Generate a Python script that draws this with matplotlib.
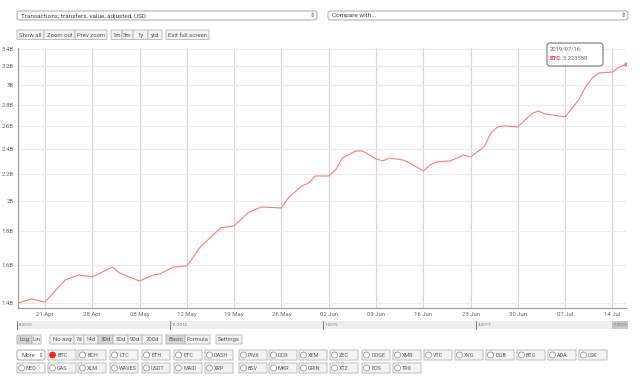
import matplotlib
matplotlib.use("Agg")
import matplotlib.pyplot as plt
import matplotlib.dates as mdates
from matplotlib.patches import FancyBboxPatch, Rectangle, Circle
import numpy as np

plt.rcParams['font.family'] = ['Roboto', 'DejaVu Sans']

# BTC transfer value, 30d average, billions USD
dates = np.array([
    '2019-04-17', '2019-04-19', '2019-04-21', '2019-04-24', '2019-04-26',
    '2019-04-28', '2019-05-01', '2019-05-02', '2019-05-05', '2019-05-07',
    '2019-05-08', '2019-05-10', '2019-05-12', '2019-05-14', '2019-05-17',
    '2019-05-19', '2019-05-21', '2019-05-23', '2019-05-26', '2019-05-27',
    '2019-05-29', '2019-05-30', '2019-05-31', '2019-06-02', '2019-06-03',
    '2019-06-04', '2019-06-06', '2019-06-07', '2019-06-09', '2019-06-10',
    '2019-06-11', '2019-06-13', '2019-06-14', '2019-06-16', '2019-06-17',
    '2019-06-18', '2019-06-20', '2019-06-22', '2019-06-23', '2019-06-25',
    '2019-06-26', '2019-06-27', '2019-06-28', '2019-06-30', '2019-07-02',
    '2019-07-03', '2019-07-04', '2019-07-07', '2019-07-09', '2019-07-10',
    '2019-07-11', '2019-07-12', '2019-07-14', '2019-07-15', '2019-07-16',
], dtype='datetime64[D]')
btc = [
    1.402, 1.422, 1.407, 1.520, 1.546,
    1.536, 1.590, 1.557, 1.514, 1.546,
    1.552, 1.590, 1.596, 1.705, 1.822,
    1.835, 1.920, 1.960, 1.953, 2.023,
    2.109, 2.131, 2.184, 2.184, 2.230,
    2.325, 2.383, 2.383, 2.318, 2.302,
    2.325, 2.309, 2.285, 2.223, 2.270,
    2.294, 2.302, 2.350, 2.334, 2.417,
    2.538, 2.592, 2.601, 2.592, 2.712,
    2.740, 2.712, 2.684, 2.850, 2.978,
    3.074, 3.128, 3.139, 3.194, 3.223558,
]
y_ticks = [1.4, 1.6, 1.8, 2.0, 2.2, 2.4, 2.6, 2.8, 3.0, 3.2, 3.4]
y_labels = ['1.4B', '1.6B', '1.8B', '2B', '2.2B', '2.4B', '2.6B', '2.8B', '3B', '3.2B', '3.4B']

range_labels = ['8-2010', '11-2012', '1-2015', '4-2017']
range_x = [17, 170, 323, 476]

coins_row1 = ['BTC', 'BCH', 'LTC', 'ETH', 'ETC', 'DASH', 'PIVX', 'DCR', 'XEM',
              'ZEC', 'DOGE', 'XMR', 'VTC', 'XVG', 'DGB', 'BTG', 'ADA', 'LSK']
coins_row2 = ['NEO', 'GAS', 'XLM', 'WAVES', 'USDT', 'MAID', 'XRP', 'BSV', 'MKR',
              'GRIN', 'XTZ', 'EOS', 'TRX']
coin_x = [48, 78, 110, 142, 174, 205, 239, 269, 299,
          330, 362, 393, 424, 455, 486, 517, 548, 579]

W, H = 641, 387
LINE = '#ff7b7b'
TXT = '#666666'

fig = plt.figure(figsize=(W / 100, H / 100), dpi=100)

# chart axes, placed in pixel terms
x0, x1, y0, y1 = 18, 626, 48, 308
ax = fig.add_axes([x0 / W, 1 - y1 / H, (x1 - x0) / W, (y1 - y0) / H], zorder=1)
ax.plot(dates, btc, color=LINE, lw=0.8)
ax.plot(dates[-1:], btc[-1:], 'o', color=LINE, ms=2.2)
ax.set_yscale('log')
ax.set_ylim(1.378, 3.413)
ax.set_xlim(dates[0], dates[-1])
ax.set_yticks(y_ticks)
ax.set_yticklabels(y_labels)
ax.yaxis.set_minor_locator(matplotlib.ticker.NullLocator())
ax.xaxis.set_major_locator(mdates.WeekdayLocator(byweekday=mdates.SU))
ax.xaxis.set_major_formatter(mdates.DateFormatter('%d %b'))
ax.tick_params(length=0, labelsize=4.3, labelcolor=TXT, pad=3)
ax.grid(axis='x', color='#d4d4d4', lw=0.8)
ax.grid(axis='y', color='#ececec', lw=0.8)
for s in ['top', 'right']:
    ax.spines[s].set_visible(False)
for s in ['left', 'bottom']:
    ax.spines[s].set_color('#999999')
    ax.spines[s].set_linewidth(0.8)

# pixel overlay for the page controls
ui = fig.add_axes([0, 0, 1, 1], zorder=2)
ui.set_xlim(0, W)
ui.set_ylim(H, 0)
ui.axis('off')
ui.patch.set_alpha(0)


def box(xa, ya, xb, yb, fc='#f2f2f2', ec='#b0b0b0', r=0.0, lw=0.6):
    ui.add_patch(FancyBboxPatch((xa, ya), xb - xa, yb - ya,
                                boxstyle=f'round,pad=0,rounding_size={r}',
                                fc=fc, ec=ec, lw=lw))


def button(xa, xb, ya, yb, text, pressed=False):
    box(xa, ya, xb, yb, fc='#d6d6d6' if pressed else '#f4f4f4', ec='#b4b4b4')
    ui.text((xa + xb) / 2, (ya + yb) / 2 + 0.3, text, fontsize=4.3, color='#555555',
            ha='center', va='center')


# dropdowns
box(17, 11, 317, 20, fc='white', ec='#999999', r=2.5)
ui.text(21, 15.7, 'Transactions, transfers, value, adjusted, USD', fontsize=4.6,
        color='#444444', va='center')
ui.text(312, 15.7, '⇕', fontsize=4.5, color='#555555', va='center', ha='center')
box(328, 11, 628, 20, fc='white', ec='#999999', r=2.5)
ui.text(332, 15.7, 'Compare with...', fontsize=4.6, color='#444444', va='center')
ui.text(623, 15.7, '⇕', fontsize=4.5, color='#555555', va='center', ha='center')

# zoom buttons
for xa, xb, t in [(17, 44, 'Show all'), (44, 75, 'Zoom out'), (75, 107, 'Prev zoom'),
                  (111, 122, '1m'), (122, 133, '3m'), (133, 148, '1y'), (148, 162, 'ytd'),
                  (166, 209, 'Exit full screen')]:
    button(xa, xb, 30, 39.5, t)

# tooltip
box(547, 43, 603, 66, fc='white', ec='#777777', r=3, lw=0.8)
ui.text(549.5, 49, '2019/07/16:', fontsize=4.2, color='#666666', va='center')
ui.text(549.5, 59, 'BTC', fontsize=4.2, color='#ff4040', va='center', weight='bold')
ui.text(560, 59, ': 3.223558', fontsize=4.2, color='#666666', va='center')

# range selector
ui.add_patch(Rectangle((17, 321), 611, 8, fc='#eeeeee', ec='none'))
ui.add_patch(Rectangle((612, 321), 16, 8, fc='#c6c6c6', ec='none'))
for rx, rl in zip(range_x, range_labels):
    ui.plot([rx, rx], [321, 329], color='#555555', lw=0.5)
    ui.text(rx + 1.5, 325.3, rl, fontsize=3.2, color='#777777', va='center')
ui.text(627, 325.3, '7-2019', fontsize=3.2, color='#777777', va='center', ha='right')

# option buttons
for xa, xb, t, p in [(17, 32, 'Log', True), (32, 41, 'Lin', False),
                     (50, 74, 'No avg', False), (74, 84, '7d', False), (84, 98, '14d', False),
                     (98, 113, '30d', True), (113, 128, '50d', False), (128, 142, '90d', False),
                     (142, 162, '200d', False), (166, 185, 'Basic', True),
                     (185, 210, 'Formula', False), (216, 242, 'Settings', False)]:
    button(xa, xb, 335, 344, t, p)

# coin selectors
box(17, 350, 45, 360, fc='white', ec='#999999', r=2)
ui.text(21, 355.3, 'More', fontsize=4.3, color='#555555', va='center')
ui.text(41, 355.3, '⇕', fontsize=4, color='#555555', va='center', ha='center')


def coin(xa, ya, name, on=False):
    box(xa, ya, xa + 28, ya + 10, fc='#f4f4f4', ec='#b4b4b4')
    ui.add_patch(Circle((xa + 4.5, ya + 5), 3, fc='#ff2020' if on else 'white',
                        ec='#ff2020' if on else '#888888', lw=0.5))
    ui.text(xa + 9, ya + 5.3, name, fontsize=3.9, color='#555555', va='center')


for i, c in enumerate(coins_row1):
    coin(coin_x[i], 350, c, on=(c == 'BTC'))
for i, c in enumerate(coins_row2):
    if i == 0:
        coin(17, 363, c)
    else:
        coin(coin_x[i - 1], 363, c)

fig.savefig('out.png', dpi=100)
